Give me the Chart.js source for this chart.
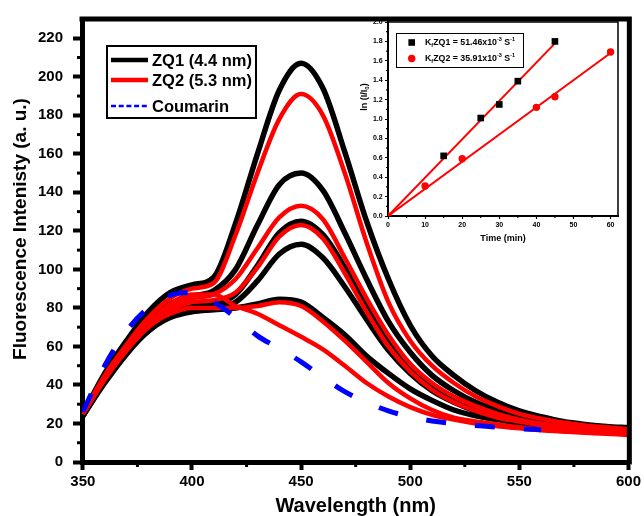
<!DOCTYPE html>
<html><head><meta charset="utf-8">
<script src="https://cdn.jsdelivr.net/npm/chart.js@4/dist/chart.umd.min.js"></script>
<style>
html,body{margin:0;padding:0;background:#fff;}
#wrap{position:relative;width:644px;height:516px;background:#fff;}
#main{position:absolute;left:0;top:0;}
#inset{position:absolute;left:340px;top:8px;}
</style></head><body>
<div id="wrap"><canvas id="main" width="644" height="516"></canvas><canvas id="inset" width="290" height="245"></canvas></div>
<script>
// ---------- main chart data ----------
const wavelengths = [350,360,370,380,390,400,410,420,430,440,450,460,470,480,490,500,510,520,530,540,550,560,570,580,590,600];
const zq1_a = [25,46,63,78,88,92,96,124,160,193,207,194,161,125,95,71,55,45,37,31,26.5,23.5,21,19.5,18.5,17.8];
const zq1_b = [24,44,60,73,82,86,89,100,123,144,150,141,119,95,73,57,45,37,31,27,23.5,21,19.5,18,17,16.5];
const zq1_c = [24,42,57,69,77,81,82,87,102,119,125,118,101,81,63,49,39,32.5,27.5,24,21.5,19.5,18,17,16,15.5];
const zq1_d = [24,41,56,68,76,79,80,83,94,108,113,106,91,74,58,46,37,31,26.5,23.5,21,19.5,18,17,16,15.5];
const zq1_e = [24,42,57,68,75,78,79,80,82,84.5,83,75,66,55,46,38,32,27,24,22,20,18.5,17.5,16.5,16,15.5];
const zq2_a = [25,45,61,75,85,90,93,118,150,178,191,180,150,114,83,63,50,41,34,29,25,22.5,20.5,19,18,17];
const zq2_b = [25,44,59,72,81,85,87,95,111,127,133,126,106,85,66,51,41,34,29,25,22,20,18.5,17.5,16.5,16];
const zq2_c = [25,43,58,71,79,83,84,88,101,117,123,116,98,78,60,47,37.5,31,26.5,23,21,19,17.5,16.5,15.5,15];
const zq2_d = [25,43,58,70,77,80,80,80,81,83,81,73,63,52,41,33,27,23,21,19.5,18,17,16,15.5,15,14.5];
const zq2_e = [25,43,59,72,82,87,87,81,77,71,65,58.5,50,41,34,28.5,24.5,22,20,18.5,17.5,16.5,15.8,15.2,14.7,14];
const coumarin = [26,50,68,80,86.5,88,83,75,65.5,59,52,44,36.5,31,26.5,23.5,21.3,20,19,18,17.3,16.8,null,null,null,null];
const seriesNames = ['ZQ1 (4.4 nm)','ZQ2 (5.3 nm)','Coumarin'];
const xTickValues = [350,400,450,500,550,600];
const xMinorValues = [375,425,475,525,575];
const yTickValues = [0,20,40,60,80,100,120,140,160,180,200,220];
const yMinorValues = [10,30,50,70,90,110,130,150,170,190,210];

// ---------- inset data ----------
const timeZQ1 = [15,25,30,35,45];
const lnZQ1 = [0.62,1.01,1.15,1.39,1.80];
const timeZQ2 = [0,10,20,40,45,60];
const lnZQ2 = [0,0.31,0.59,1.12,1.23,1.69];
const fitTimeZQ1 = [0,45];
const fitLnZQ1 = [0,1.78];
const fitTimeZQ2 = [0,60];
const fitLnZQ2 = [0,1.68];
const insetXTicks = [0,10,20,30,40,50,60];
const insetXMinor = [5,15,25,35,45,55];
const insetYTicks = [0,0.2,0.4,0.6,0.8,1.0,1.2,1.4,1.6,1.8,2.0];
const insetYMinor = [0.1,0.3,0.5,0.7,0.9,1.1,1.3,1.5,1.7,1.9];
const insetLegend = [['K','f','ZQ1 = 51.46x10','-3',' S','-1'],['K','f','ZQ2 = 35.91x10','-3',' S','-1']];

const FONT = "'Liberation Sans', Arial, Helvetica, sans-serif";
const BLACK = '#000000', RED = '#ff0000', BLUE = '#0000ff';

function pts(xs, ys){ return ys.map((v,i)=> ({x:xs[i], y:v})); }
function curve(vals, color, w, order, dash){
  return {data: pts(wavelengths, vals), borderColor: color, backgroundColor: color, borderWidth: w,
    pointRadius: 0, fill: false, cubicInterpolationMode: 'monotone', order: order,
    borderDash: dash || [], borderCapStyle: 'butt', borderJoinStyle: 'round', spanGaps: false};
}

const mainDatasets = [
  curve(coumarin, BLUE, 5, 0, [20,29]),
  curve(zq2_a, RED, 4.5, 1), curve(zq2_b, RED, 4.5, 1), curve(zq2_c, RED, 4.5, 1),
  curve(zq2_d, RED, 4.5, 1), curve(zq2_e, RED, 4.5, 1),
  curve(zq1_a, BLACK, 5.5, 2), curve(zq1_b, BLACK, 5.5, 2), curve(zq1_c, BLACK, 5.5, 2),
  curve(zq1_d, BLACK, 5.5, 2), curve(zq1_e, BLACK, 5.5, 2)
];

const mainDeco = {
  id: 'mainDeco',
  beforeDraw(chart){
    const c = chart.ctx; c.save(); c.fillStyle = '#fff'; c.fillRect(0,0,chart.width,chart.height); c.restore();
  },
  afterDraw(chart){
    const c = chart.ctx, a = chart.chartArea, xs = chart.scales.x, ys = chart.scales.y;
    c.save();
    c.strokeStyle = BLACK; c.lineWidth = 5; c.lineCap = 'square';
    c.beginPath(); c.moveTo(a.left, a.top); c.lineTo(a.right, a.top); c.lineTo(a.right, a.bottom); c.stroke();
    c.lineCap = 'butt'; c.lineWidth = 3;
    xMinorValues.forEach(v=>{ const p = xs.getPixelForValue(v); c.beginPath(); c.moveTo(p, a.bottom); c.lineTo(p, a.bottom+5); c.stroke(); });
    yMinorValues.forEach(v=>{ const p = ys.getPixelForValue(v); c.beginPath(); c.moveTo(a.left, p); c.lineTo(a.left-5, p); c.stroke(); });
    c.save(); c.translate(21, 229); c.rotate(-Math.PI/2);
    c.fillStyle = BLACK; c.font = 'bold 19px ' + FONT; c.textAlign = 'center'; c.textBaseline = 'middle';
    c.fillText('Fluorescence Intenisty (a. u.)', 0, 0); c.restore();
    c.lineWidth = 2; c.strokeStyle = BLACK; c.strokeRect(107, 46, 149, 72);
    const rows = [[60, BLACK, 4.5, []], [80, RED, 4.5, []], [106, BLUE, 2.5, [5,2.7]]];
    c.font = 'bold 16.5px ' + FONT; c.textBaseline = 'middle'; c.textAlign = 'left'; c.fillStyle = BLACK;
    rows.forEach((r,i)=>{
      c.strokeStyle = r[1]; c.lineWidth = r[2]; c.setLineDash(r[3]);
      c.beginPath(); c.moveTo(111, r[0]); c.lineTo(148, r[0]); c.stroke();
      c.setLineDash([]);
      c.fillText(seriesNames[i], 152, r[0]+1);
    });
    c.restore();
  }
};

new Chart(document.getElementById('main'), {
  type: 'line',
  data: { datasets: mainDatasets },
  options: {
    responsive: false, animation: false, devicePixelRatio: 1,
    layout: { padding: { left: 0, top: 16, right: 13, bottom: 0 } },
    plugins: { legend: { display: false }, tooltip: { enabled: false } },
    scales: {
      x: {
        type: 'linear', min: 349.6, max: 600.4, offset: false,
        afterBuildTicks: s => { s.ticks = xTickValues.map(v=>({value:v})); },
        afterFit: s => { s.height = 54; },
        ticks: { color: BLACK, font: { family: FONT, size: 15, weight: 'bold' }, padding: 3, maxRotation: 0, autoSkip: false },
        grid: { drawOnChartArea: false, drawTicks: true, tickLength: 8, tickWidth: 4, tickColor: BLACK },
        border: { display: true, width: 5, color: BLACK },
        title: { display: true, text: 'Wavelength (nm)', color: BLACK, font: { family: FONT, size: 20, weight: 'bold', lineHeight: 1 }, padding: { top: 0, bottom: 0 } }
      },
      y: {
        type: 'linear', min: 0, max: 230,
        afterBuildTicks: s => { s.ticks = yTickValues.map(v=>({value:v})); },
        afterFit: s => { s.width = 82; },
        ticks: { color: BLACK, font: { family: FONT, size: 15, weight: 'bold' }, padding: 10, autoSkip: false },
        grid: { drawOnChartArea: false, drawTicks: true, tickLength: 9, tickWidth: 4, tickColor: BLACK },
        border: { display: true, width: 5, color: BLACK }
      }
    }
  },
  plugins: [mainDeco]
});

// ---------- inset ----------
const insetDeco = {
  id: 'insetDeco',
  afterDraw(chart){
    const c = chart.ctx, a = chart.chartArea, xs = chart.scales.x, ys = chart.scales.y;
    c.save();
    c.strokeStyle = BLACK; c.lineWidth = 1.5;
    c.beginPath(); c.moveTo(a.left, a.top); c.lineTo(a.right, a.top); c.lineTo(a.right, a.bottom); c.stroke();
    c.lineWidth = 1.2;
    insetXMinor.forEach(v=>{ const p = xs.getPixelForValue(v); c.beginPath(); c.moveTo(p, a.bottom); c.lineTo(p, a.bottom+2); c.stroke(); });
    insetYMinor.forEach(v=>{ const p = ys.getPixelForValue(v); c.beginPath(); c.moveTo(a.left, p); c.lineTo(a.left-2, p); c.stroke(); });
    c.save(); c.translate(25, 89); c.rotate(-Math.PI/2); c.fillStyle = BLACK; c.textBaseline = 'middle'; c.textAlign = 'left';
    c.font = 'bold 9px ' + FONT;
    const t1 = 'ln (I/I'; const w1 = c.measureText(t1).width;
    c.font = 'bold 6px ' + FONT; const w2 = c.measureText('0').width;
    c.font = 'bold 9px ' + FONT; const w3 = c.measureText(')').width;
    let x0 = -(w1+w2+w3)/2;
    c.fillText(t1, x0, 0); x0 += w1;
    c.font = 'bold 6px ' + FONT; c.fillText('0', x0, 2.5); x0 += w2;
    c.font = 'bold 9px ' + FONT; c.fillText(')', x0, 0);
    c.restore();
    c.lineWidth = 1; c.strokeStyle = BLACK; c.strokeRect(56.5, 25.5, 127, 34);
    const rowsY = [34.5, 50.5];
    c.fillStyle = BLACK; c.fillRect(71.7-3.3, rowsY[0]-3.3, 6.6, 6.6);
    c.fillStyle = RED; c.beginPath(); c.arc(71.7, rowsY[1], 3.7, 0, Math.PI*2); c.fill();
    c.fillStyle = BLACK; c.textBaseline = 'middle'; c.textAlign = 'left';
    insetLegend.forEach((parts, i)=>{
      let x = 85; const y = rowsY[i];
      parts.forEach((p, j)=>{
        const small = (j===1 || j===3 || j===5);
        c.font = 'bold ' + (small ? 5.5 : 8.8) + 'px ' + FONT;
        const dy = j===1 ? 2.5 : (j===3 || j===5) ? -3 : 0;
        c.fillText(p, x, y + dy);
        x += c.measureText(p).width;
      });
    });
    c.restore();
  }
};

new Chart(document.getElementById('inset'), {
  type: 'line',
  data: { datasets: [
    { data: pts(timeZQ1, lnZQ1), showLine: false, pointStyle: 'rect', pointRadius: 4.7, pointBackgroundColor: BLACK, pointBorderColor: BLACK, pointBorderWidth: 0, order: 0 },
    { data: pts(timeZQ2, lnZQ2), showLine: false, pointStyle: 'circle', pointRadius: 3.7, pointBackgroundColor: RED, pointBorderColor: RED, pointBorderWidth: 0, order: 1 },
    { data: pts(fitTimeZQ1, fitLnZQ1), borderColor: RED, borderWidth: 2, pointRadius: 0, fill: false, order: 2 },
    { data: pts(fitTimeZQ2, fitLnZQ2), borderColor: RED, borderWidth: 2, pointRadius: 0, fill: false, order: 2 }
  ]},
  options: {
    responsive: false, animation: false, devicePixelRatio: 1,
    layout: { padding: { left: 0, top: 14, right: 12, bottom: 0 } },
    plugins: { legend: { display: false }, tooltip: { enabled: false } },
    scales: {
      x: {
        type: 'linear', min: 0, max: 62,
        afterBuildTicks: s => { s.ticks = insetXTicks.map(v=>({value:v})); },
        afterFit: s => { s.height = 37; },
        ticks: { color: BLACK, font: { family: FONT, size: 7, weight: 'bold' }, padding: 2, maxRotation: 0, autoSkip: false },
        grid: { drawOnChartArea: false, drawTicks: true, tickLength: 3, tickWidth: 1.2, tickColor: BLACK },
        border: { display: true, width: 2, color: BLACK },
        title: { display: true, text: 'Time (min)', color: BLACK, font: { family: FONT, size: 9, weight: 'bold', lineHeight: 1 }, padding: { top: 0, bottom: 9.5 } }
      },
      y: {
        type: 'linear', min: 0, max: 2.0,
        afterBuildTicks: s => { s.ticks = insetYTicks.map(v=>({value:v})); },
        afterFit: s => { s.width = 48; },
        ticks: { color: BLACK, font: { family: FONT, size: 7, weight: 'bold' }, padding: 2.3, autoSkip: false, callback: v => Number(v).toFixed(1) },
        grid: { drawOnChartArea: false, drawTicks: true, tickLength: 3, tickWidth: 1.2, tickColor: BLACK },
        border: { display: true, width: 2, color: BLACK }
      }
    }
  },
  plugins: [insetDeco]
});
</script>
</body></html>
